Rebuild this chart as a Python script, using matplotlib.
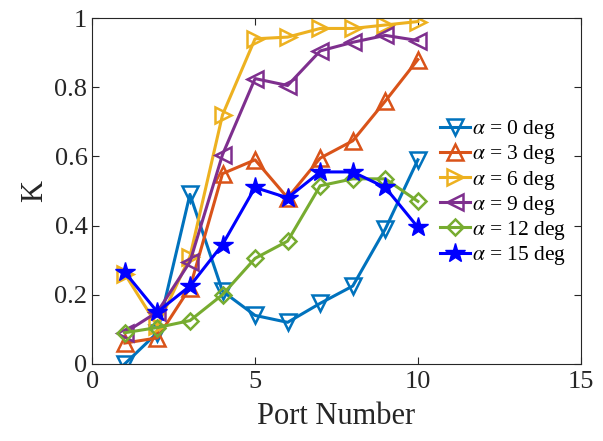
import matplotlib.pyplot as plt
import numpy as np

plt.rcParams['font.family'] = ['Liberation Serif', 'DejaVu Serif']
plt.rcParams['mathtext.fontset'] = 'stix'

ports = [1, 2, 3, 4, 5, 6, 7, 8, 9, 10]
k_a0 = [0.00, 0.09, 0.49, 0.21, 0.14, 0.12, 0.175, 0.225, 0.39, 0.59]
k_a3 = [0.06, 0.075, 0.22, 0.55, 0.59, 0.48, 0.595, 0.645, 0.76, 0.88]
k_a6 = [0.26, 0.11, 0.31, 0.72, 0.94, 0.945, 0.97, 0.97, 0.98, 0.99]
k_a9 = [0.09, 0.15, 0.295, 0.605, 0.825, 0.805, 0.905, 0.93, 0.95, 0.935]
k_a12 = [0.09, 0.105, 0.125, 0.20, 0.305, 0.355, 0.515, 0.535, 0.535, 0.47]
k_a15 = [0.265, 0.15, 0.225, 0.345, 0.51, 0.48, 0.555, 0.555, 0.51, 0.395]
labels = [r'$\alpha$ = 0 deg', r'$\alpha$ = 3 deg', r'$\alpha$ = 6 deg',
          r'$\alpha$ = 9 deg', r'$\alpha$ = 12 deg', r'$\alpha$ = 15 deg']

series = [k_a0, k_a3, k_a6, k_a9, k_a12, k_a15]
colors = ['#0072BD', '#D95319', '#EDB120', '#7E2F8E', '#77AC30', '#0000FF']
markers = ['v', '^', '>', '<', 'D', '*']

fig = plt.figure(figsize=(6.03, 4.41), dpi=100)
ax = fig.add_axes([0.153, 0.175, 0.810, 0.784])
for ys, c, m, lab in zip(series, colors, markers, labels):
    if m == '*':
        ax.plot(ports, ys, color=c, marker=m, markersize=15, lw=2.2,
                markerfacecolor=c, markeredgecolor=c, label=lab)
    elif m == 'D':
        ax.plot(ports, ys, color=c, marker=m, markersize=8, lw=2.2,
                markerfacecolor='none', markeredgewidth=1.8, label=lab)
    else:
        ax.plot(ports, ys, color=c, marker=m, markersize=11, lw=2.2,
                markerfacecolor='none', markeredgewidth=1.8, label=lab)

ax.set_xlim(0, 15)
ax.set_ylim(0, 1)
ax.set_xticks([0, 5, 10, 15])
ax.set_yticks([0, 0.2, 0.4, 0.6, 0.8, 1])
ax.set_yticklabels(['0', '0.2', '0.4', '0.6', '0.8', '1'])
ax.tick_params(direction='in', top=True, right=True, labelsize=19, length=5, width=0.8, colors='#262626')
ax.tick_params(axis='x', pad=5)
for s in ax.spines.values():
    s.set_color('#262626')
    s.set_linewidth(0.8)
ax.set_xlabel('Port Number', fontsize=22, color='#262626', labelpad=7)
ax.set_ylabel('K', fontsize=22, color='#262626', labelpad=4)
ax.legend(loc='upper left', bbox_to_anchor=(0.712, 0.71), frameon=False, fontsize=15.5,
          handlelength=1.4, handletextpad=0.1, labelspacing=0.1, borderaxespad=0, borderpad=0)
fig.savefig('out.png', dpi=100)
